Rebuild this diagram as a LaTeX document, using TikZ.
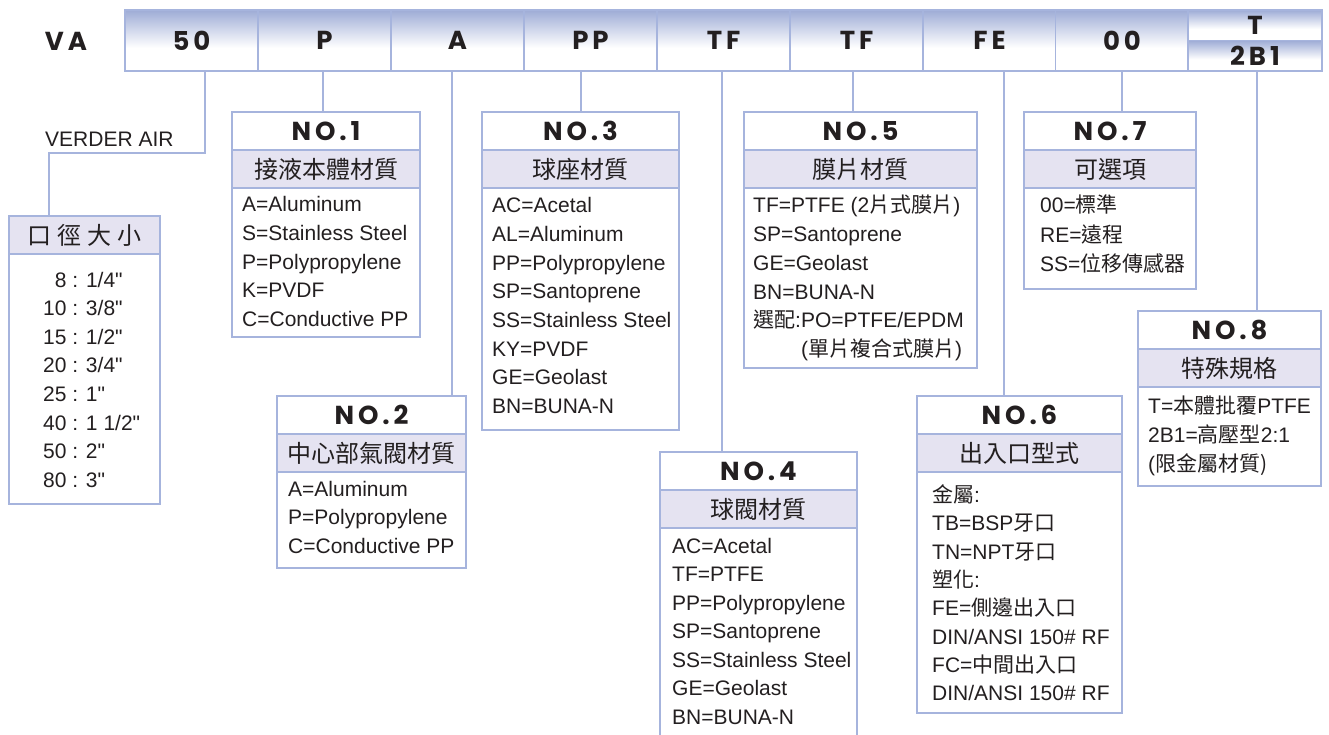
\documentclass[tikz,border=0pt]{standalone}
\usepackage{fontspec}
\setmainfont{Liberation Sans}
\newfontfamily\cjk{Noto Sans CJK TC}
\newfontfamily\codefont[LetterSpace=15]{Poppins}
\usetikzlibrary{positioning}

\definecolor{lineblue}{RGB}{166,180,221}
\definecolor{headfill}{RGB}{229,227,241}
\definecolor{bartop}{RGB}{158,172,214}
\definecolor{ink}{RGB}{35,31,32}
\pgfdeclareverticalshading{barshade}{100bp}{color(0bp)=(white); color(25bp)=(white); color(44bp)=(white); color(75bp)=(bartop); color(100bp)=(bartop)}

\tikzset{
  cell/.style={draw=lineblue, line width=1.5pt, shade, shading=barshade, minimum width=133, minimum height=61, inner sep=0pt, outer sep=0pt, text=ink, font=\codefont\bfseries\fontsize{26}{26}\selectfont},
  titlebox/.style={draw=lineblue, line width=1.5pt, fill=white, minimum height=38, inner sep=0pt, outer sep=0pt, text=ink, font=\codefont\bfseries\fontsize{26}{26}\selectfont},
  headbox/.style={draw=lineblue, line width=1.5pt, fill=headfill, minimum height=38, inner sep=0pt, outer sep=0pt, text=ink, font=\cjk\fontsize{24}{24}\selectfont},
  bodybox/.style={draw=lineblue, line width=1.5pt, fill=white, inner sep=0pt, outer sep=0pt},
  item/.style={anchor=base west, inner sep=0pt, text=ink, font=\fontsize{21}{21}\selectfont},
  link/.style={draw=lineblue, line width=1.5pt}
}

\begin{document}
\begin{tikzpicture}[x=1pt,y=-1pt]
  \useasboundingbox (0,0) rectangle (1329,735);
  \clip (0,0) rectangle (1329,735);

  % code bar
  \node[text=ink, font=\codefont\bfseries\fontsize{26}{26}\selectfont] (va) at (66,41) {VA};
  \node[cell] (c50) at (191.5,40.5) {50};
  \node[cell] (cP) at (324.5,40.5) {P};
  \node[cell] (cA) at (457.5,40.5) {A};
  \node[cell] (cPP) at (590.5,40.5) {PP};
  \node[cell] (cTF) at (723.5,40.5) {TF};
  \node[cell] (cTFb) at (856.5,40.5) {TF};
  \node[cell] (cFE) at (989.5,40.5) {FE};
  \node[cell] (c00) at (1122,40.5) {00};
  \node[cell, minimum width=134, minimum height=30.5] (cT) at (1255,25.25) {T};
  \node[cell, minimum width=134, minimum height=30.5] (c2B1) at (1255,55.75) {2B1};

  % size
  \node[headbox, minimum width=151, anchor=north west] (sizeh) at (9,216) {口\hspace{6pt}徑\hspace{6pt}大\hspace{6pt}小};
  \node[bodybox, minimum width=151, minimum height=250, anchor=north] (sizeb) at (sizeh.south) {};
  \foreach \t [count=\i] in {\hphantom{1}8 : 1/4\textquotedbl, 10 : 3/8\textquotedbl, 15 : 1/2\textquotedbl, 20 : 3/4\textquotedbl, 25 : 1\textquotedbl, 40 : 1 1/2\textquotedbl, 50 : 2\textquotedbl, 80 : 3\textquotedbl}
    \node[item] (size\i) at (43,{287+28.6*(\i-1)}) {\t};
  \node[item] (verder) at (45,146.5) {VERDER AIR};

  % NO.1
  \node[titlebox, minimum width=188, anchor=north west] (no1) at (232,112) {NO.1};
  \node[headbox, minimum width=188, anchor=north] (no1h) at (no1.south) {接液本體材質};
  \node[bodybox, minimum width=188, minimum height=149, anchor=north] (no1b) at (no1h.south) {};
  \foreach \t [count=\i] in {A=Aluminum, S=Stainless Steel, P=Polypropylene, K=PVDF, C=Conductive PP}
    \node[item] (no1t\i) at (242,{212+28.6*(\i-1)}) {\t};

  % NO.2
  \node[titlebox, minimum width=189, anchor=north west] (no2) at (277,396) {NO.2};
  \node[headbox, minimum width=189, anchor=north] (no2h) at (no2.south) {中心部氣閥材質};
  \node[bodybox, minimum width=189, minimum height=96, anchor=north] (no2b) at (no2h.south) {};
  \foreach \t [count=\i] in {A=Aluminum, P=Polypropylene, C=Conductive PP}
    \node[item] (no2t\i) at (288,{496+28.6*(\i-1)}) {\t};

  % NO.3
  \node[titlebox, minimum width=197, anchor=north west] (no3) at (482,112) {NO.3};
  \node[headbox, minimum width=197, anchor=north] (no3h) at (no3.south) {球座材質};
  \node[bodybox, minimum width=197, minimum height=242, anchor=north] (no3b) at (no3h.south) {};
  \foreach \t [count=\i] in {AC=Acetal, AL=Aluminum, PP=Polypropylene, SP=Santoprene, SS=Stainless Steel, KY=PVDF, GE=Geolast, BN=BUNA-N}
    \node[item] (no3t\i) at (492,{213+28.6*(\i-1)}) {\t};

  % NO.4
  \node[titlebox, minimum width=197, anchor=north west] (no4) at (660,452) {NO.4};
  \node[headbox, minimum width=197, anchor=north] (no4h) at (no4.south) {球閥材質};
  \node[bodybox, minimum width=197, minimum height=230, anchor=north] (no4b) at (no4h.south) {};
  \foreach \t [count=\i] in {AC=Acetal, TF=PTFE, PP=Polypropylene, SP=Santoprene, SS=Stainless Steel, GE=Geolast, BN=BUNA-N}
    \node[item] (no4t\i) at (672,{553+28.55*(\i-1)}) {\t};

  % NO.5
  \node[titlebox, minimum width=233, anchor=north west] (no5) at (744,112) {NO.5};
  \node[headbox, minimum width=233, anchor=north] (no5h) at (no5.south) {膜片材質};
  \node[bodybox, minimum width=233, minimum height=180, anchor=north] (no5b) at (no5h.south) {};
  \foreach \t [count=\i] in {TF=PTFE (2{\cjk 片式膜片}), SP=Santoprene, GE=Geolast, BN=BUNA-N, {\cjk 選配}:PO=PTFE/EPDM}
    \node[item] (no5t\i) at (753,{213+28.7*(\i-1)}) {\t};
  \node[item] (no5t6) at (801,356.5) {({\cjk 單片複合式膜片})};

  % NO.6
  \node[titlebox, minimum width=205, anchor=north west] (no6) at (917,396) {NO.6};
  \node[headbox, minimum width=205, anchor=north] (no6h) at (no6.south) {出入口型式};
  \node[bodybox, minimum width=205, minimum height=241, anchor=north] (no6b) at (no6h.south) {};
  \foreach \t [count=\i] in {{\cjk 金屬}:, TB=BSP{\cjk 牙口}, TN=NPT{\cjk 牙口}, {\cjk 塑化}:, FE={\cjk 側邊出入口}, DIN/ANSI 150\# RF, FC={\cjk 中間出入口}, DIN/ANSI 150\# RF}
    \node[item] (no6t\i) at (932,{502.5+28.3*(\i-1)}) {\t};

  % NO.7
  \node[titlebox, minimum width=172, anchor=north west] (no7) at (1024,112) {NO.7};
  \node[headbox, minimum width=172, anchor=north] (no7h) at (no7.south) {可選項};
  \node[bodybox, minimum width=172, minimum height=101, anchor=north] (no7b) at (no7h.south) {};
  \foreach \t [count=\i] in {00={\cjk 標準}, RE={\cjk 遠程}, SS={\cjk 位移傳感器}}
    \node[item] (no7t\i) at (1040,{213+29.2*(\i-1)}) {\t};

  % NO.8
  \node[titlebox, minimum width=183, anchor=north west] (no8) at (1138,311) {NO.8};
  \node[headbox, minimum width=183, anchor=north] (no8h) at (no8.south) {特殊規格};
  \node[bodybox, minimum width=183, minimum height=99, anchor=north] (no8b) at (no8h.south) {};
  \foreach \t [count=\i] in {T={\cjk 本體批覆}PTFE, 2B1={\cjk 高壓型}2:1, ({\cjk 限金屬材質})}
    \node[item] (no8t\i) at (1148,{413+29.3*(\i-1)}) {\t};

  % connectors
  \draw[link] (c50.south -| 205,0) -- (205,153) -| (sizeh.north -| 49,0);
  \draw[link] (cP.south -| 323,0) -- (no1.north -| 323,0);
  \draw[link] (cA.south -| 452,0) -- (no2.north -| 452,0);
  \draw[link] (cPP.south -| 581,0) -- (no3.north -| 581,0);
  \draw[link] (cTF.south -| 722,0) -- (no4.north -| 722,0);
  \draw[link] (cTFb.south -| 853,0) -- (no5.north -| 853,0);
  \draw[link] (cFE.south -| 1004,0) -- (no6.north -| 1004,0);
  \draw[link] (c00.south -| 1122,0) -- (no7.north -| 1122,0);
  \draw[link] (c2B1.south -| 1257,0) -- (no8.north -| 1257,0);
\end{tikzpicture}
\end{document}
